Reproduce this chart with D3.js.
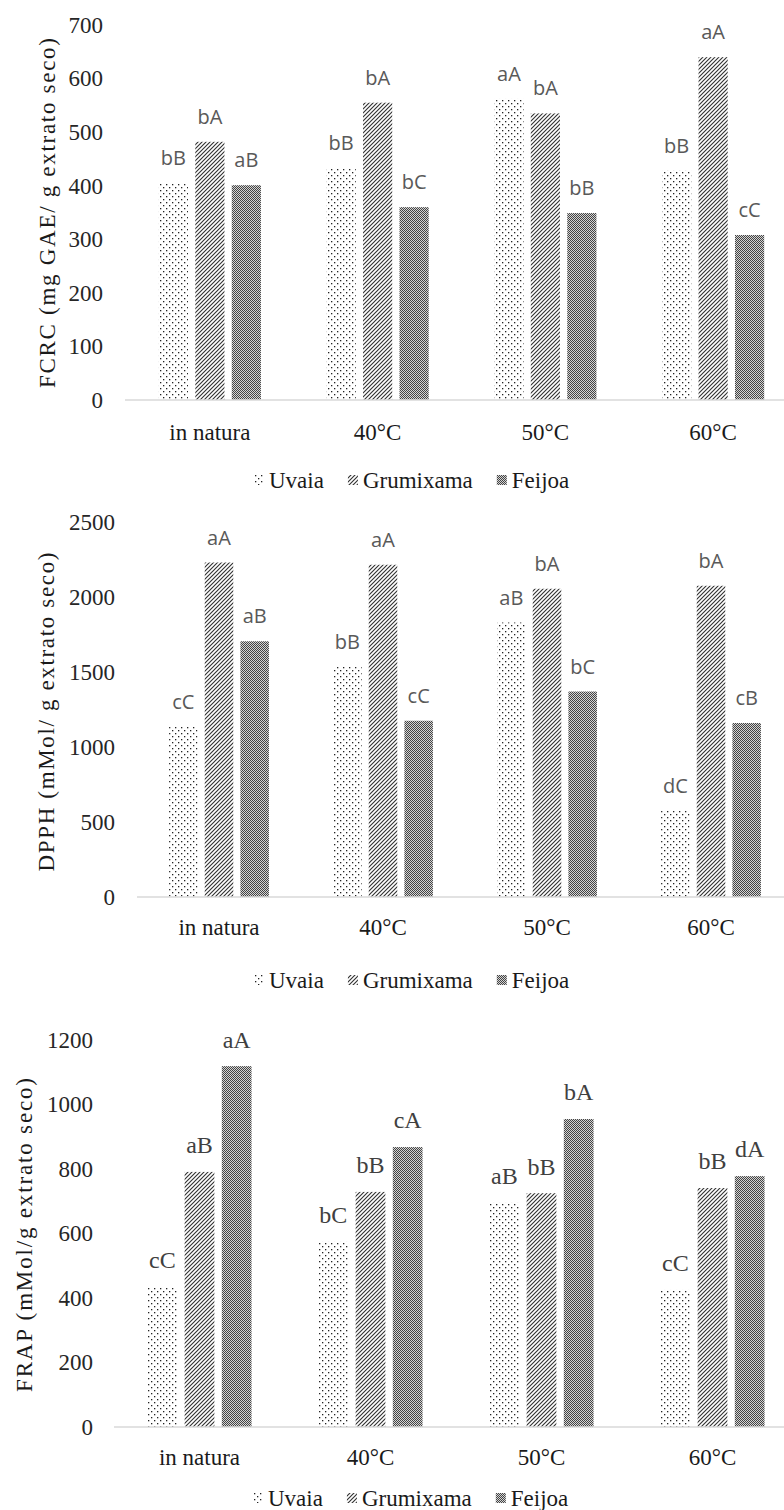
<!DOCTYPE html>
<html>
<head>
<meta charset="utf-8">
<script src="https://cdn.jsdelivr.net/npm/d3@7"></script>
<style>
  body { margin: 0; background: #fff; }
  svg { display: block; }
</style>
</head>
<body>
<div id="chart-container"></div>
<script>
const categories = ["in natura", "40°C", "50°C", "60°C"];
const series = ["Uvaia", "Grumixama", "Feijoa"];

// FCRC (mg GAE/ g extrato seco)
const fcrcUvaia = [405, 433, 562, 428];
const fcrcGrumixama = [482, 555, 535, 640];
const fcrcFeijoa = [401, 360, 349, 308];
const fcrcLetters = [["bB", "bA", "aB"], ["bB", "bA", "bC"], ["aA", "bA", "bB"], ["bB", "aA", "cC"]];
const fcrcTicks = [0, 100, 200, 300, 400, 500, 600, 700];

// DPPH (mMol/ g extrato seco)
const dpphUvaia = [1135, 1535, 1830, 575];
const dpphGrumixama = [2230, 2215, 2055, 2075];
const dpphFeijoa = [1705, 1175, 1370, 1160];
const dpphLetters = [["cC", "aA", "aB"], ["bB", "aA", "cC"], ["aB", "bA", "bC"], ["dC", "bA", "cB"]];
const dpphTicks = [0, 500, 1000, 1500, 2000, 2500];

// FRAP (mMol/g extrato seco)
const frapUvaia = [434, 574, 695, 425];
const frapGrumixama = [791, 729, 725, 741];
const frapFeijoa = [1119, 868, 955, 778];
const frapLetters = [["cC", "aB", "aA"], ["bC", "bB", "cA"], ["aB", "bB", "bA"], ["cC", "bB", "dA"]];
const frapTicks = [0, 200, 400, 600, 800, 1000, 1200];

const serif = "'Liberation Serif', 'Times New Roman', serif";
const sans = "'Open Sans', 'DejaVu Sans', sans-serif";
const patternIds = {Uvaia: "pat-uvaia", Grumixama: "pat-grum", Feijoa: "pat-feij"};

const svg = d3.select("#chart-container").append("svg")
    .attr("width", 784)
    .attr("height", 1510);

svg.append("rect").attr("width", 784).attr("height", 1510).attr("fill", "#fff");

// hatch patterns, like the Excel pattern fills
function createPatterns() {
    const defs = svg.append("defs");

    const uv = defs.append("pattern").attr("id", "pat-uvaia")
        .attr("patternUnits", "userSpaceOnUse").attr("width", 6).attr("height", 6);
    uv.append("rect").attr("width", 6).attr("height", 6).attr("fill", "#fff");
    uv.append("rect").attr("x", 1).attr("y", 1).attr("width", 1.3).attr("height", 1.3).attr("fill", "#222");
    uv.append("rect").attr("x", 4).attr("y", 4).attr("width", 1.3).attr("height", 1.3).attr("fill", "#222");

    const gr = defs.append("pattern").attr("id", "pat-grum")
        .attr("patternUnits", "userSpaceOnUse").attr("width", 4).attr("height", 4);
    gr.append("rect").attr("width", 4).attr("height", 4).attr("fill", "#fff");
    gr.append("path").attr("d", "M0,4 L4,0 M-1,1 L1,-1 M3,5 L5,3")
        .attr("stroke", "#333").attr("stroke-width", 1.15);

    const fe = defs.append("pattern").attr("id", "pat-feij")
        .attr("patternUnits", "userSpaceOnUse").attr("width", 2).attr("height", 2);
    fe.append("rect").attr("width", 2).attr("height", 2).attr("fill", "#d4d4d4");
    fe.append("rect").attr("width", 1).attr("height", 1).attr("fill", "#444");
    fe.append("rect").attr("x", 1).attr("y", 1).attr("width", 1).attr("height", 1).attr("fill", "#444");
}

/**
 * Draw one grouped bar panel
 */
function drawPanel(cfg) {
    const g = svg.append("g");

    const yScale = d3.scaleLinear()
        .domain([0, cfg.ticks[cfg.ticks.length - 1]])
        .range([cfg.bottom, cfg.top]);

    const x0 = d3.scaleBand()
        .domain(categories)
        .range([cfg.xStart, cfg.xEnd]);

    const x1 = d3.scaleBand()
        .domain(series)
        .range([0, x0.bandwidth()])
        .paddingInner(0.2)
        .paddingOuter(0.9);

    // y tick labels, no axis line
    const yAxis = g.append("g")
        .attr("transform", `translate(${cfg.tickRight},0)`)
        .call(d3.axisLeft(yScale).tickValues(cfg.ticks).tickFormat(d3.format("d")).tickSize(0).tickPadding(0));
    yAxis.select(".domain").remove();
    yAxis.selectAll("text")
        .attr("font-family", serif)
        .attr("font-size", 23)
        .attr("fill", "#262626");

    // bars
    const data = [];
    categories.forEach((c, i) => {
        series.forEach((s, j) => {
            data.push({cat: c, series: s, value: cfg.values[j][i], letter: cfg.letters[i][j]});
        });
    });

    g.selectAll(".bar")
        .data(data)
        .enter()
        .append("rect")
        .attr("class", "bar")
        .attr("x", d => x0(d.cat) + x1(d.series))
        .attr("y", d => yScale(d.value))
        .attr("width", x1.bandwidth())
        .attr("height", d => cfg.bottom - yScale(d.value))
        .attr("fill", d => `url(#${patternIds[d.series]})`);

    g.selectAll(".letter")
        .data(data)
        .enter()
        .append("text")
        .attr("class", "letter")
        .attr("x", d => x0(d.cat) + x1(d.series) + x1.bandwidth() / 2)
        .attr("y", d => yScale(d.value) - cfg.labelGap)
        .attr("dy", "0.35em")
        .attr("text-anchor", "middle")
        .attr("font-family", cfg.labelFont)
        .attr("font-size", cfg.labelSize)
        .attr("fill", cfg.labelColor)
        .text(d => d.letter);

    // category axis
    const xAxis = g.append("g")
        .attr("transform", `translate(0,${cfg.bottom})`)
        .call(d3.axisBottom(x0).tickSize(0).tickPadding(0));
    xAxis.select(".domain").attr("stroke", "#d9d9d9").attr("stroke-width", 1.3)
        .attr("d", `M${cfg.axisStart},0H${cfg.xEnd}`);
    xAxis.selectAll("text")
        .attr("y", cfg.catY - cfg.bottom)
        .attr("dy", "0.35em")
        .attr("font-family", serif)
        .attr("font-size", 23)
        .attr("fill", "#1a1a1a");

    // y title
    g.append("text")
        .attr("transform", `translate(${cfg.titleX},${cfg.titleY}) rotate(-90)`)
        .attr("text-anchor", "middle")
        .attr("dy", "0.35em")
        .attr("font-family", serif)
        .attr("font-size", 23)
        .attr("fill", "#1a1a1a")
        .attr("textLength", cfg.titleLength)
        .attr("lengthAdjust", "spacing")
        .text(cfg.title);

    // legend
    const legend = g.append("g").attr("transform", `translate(${cfg.legendX},${cfg.legendY})`);
    let lx = 0;
    series.forEach(s => {
        legend.append("rect")
            .attr("x", lx)
            .attr("y", -5)
            .attr("width", 10)
            .attr("height", 10)
            .attr("fill", `url(#${patternIds[s]})`);
        const t = legend.append("text")
            .attr("x", lx + 15)
            .attr("dy", "0.35em")
            .attr("font-family", serif)
            .attr("font-size", 23)
            .attr("fill", "#1a1a1a")
            .text(s);
        lx += 15 + t.node().getComputedTextLength() + 24;
    });
}

createPatterns();

drawPanel({
    values: [fcrcUvaia, fcrcGrumixama, fcrcFeijoa], letters: fcrcLetters, ticks: fcrcTicks,
    top: 25, bottom: 400, xStart: 126, xEnd: 797, axisStart: 125, tickRight: 103,
    title: "FCRC (mg GAE/  g extrato seco)", titleX: 47, titleY: 213, titleLength: 350,
    catY: 432, legendX: 254, legendY: 480,
    labelFont: sans, labelSize: 20, labelColor: "#595959", labelGap: 25
});

drawPanel({
    values: [dpphUvaia, dpphGrumixama, dpphFeijoa], letters: dpphLetters, ticks: dpphTicks,
    top: 522, bottom: 897, xStart: 137, xEnd: 793, axisStart: 137, tickRight: 115,
    title: "DPPH (mMol/ g extrato seco)", titleX: 46, titleY: 712, titleLength: 319,
    catY: 927, legendX: 254, legendY: 980,
    labelFont: sans, labelSize: 20, labelColor: "#595959", labelGap: 25
});

drawPanel({
    values: [frapUvaia, frapGrumixama, frapFeijoa], letters: frapLetters, ticks: frapTicks,
    top: 1040, bottom: 1427, xStart: 114, xEnd: 798, axisStart: 114, tickRight: 93,
    title: "FRAP (mMol/g extrato seco)", titleX: 24, titleY: 1235, titleLength: 314,
    catY: 1457, legendX: 253, legendY: 1498,
    labelFont: serif, labelSize: 24, labelColor: "#404040", labelGap: 27
});
</script>
</body>
</html>
